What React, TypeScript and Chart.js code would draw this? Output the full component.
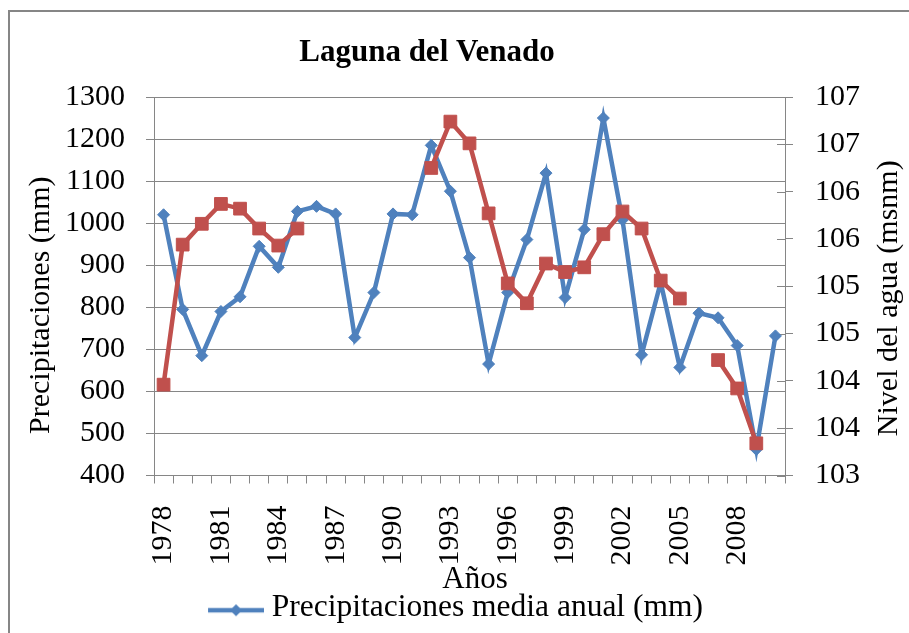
import React, { useEffect, useRef } from "react";
import { Chart, registerables } from "chart.js";

Chart.register(...registerables);

const chartTitle = "Laguna del Venado";
const leftAxisTitle = "Precipitaciones (mm)";
const rightAxisTitle = "Nivel del agua (msnm)";
const xAxisTitle = "Años";
const precipLabel = "Precipitaciones media anual (mm)";
const levelLabel = "Nivel del agua (msnm)";

const years = [
  "1978", "1979", "1980", "1981", "1982", "1983", "1984", "1985", "1986", "1987", "1988",
  "1989", "1990", "1991", "1992", "1993", "1994", "1995", "1996", "1997", "1998", "1999",
  "2000", "2001", "2002", "2003", "2004", "2005", "2006", "2007", "2008", "2009", "2010",
];

const shownYears = ["1978", "1981", "1984", "1987", "1990", "1993", "1996", "1999", "2002", "2005", "2008"];

const precipitation = [
  1020, 795, 685, 790, 825, 945, 895, 1028, 1040, 1022, 728,
  835, 1022, 1020, 1185, 1076, 918, 665, 835, 961, 1119, 823,
  985, 1250, 1008, 687, 859, 657, 786, 775, 709, 462, 732,
];

const waterLevel = [
  103.96, 105.44, 105.66, 105.87, 105.82, 105.61, 105.43, 105.61, null, null, null,
  null, null, null, 106.25, 106.74, 106.51, 105.77, 105.03, 104.82, 105.24, 105.15,
  105.2, 105.55, 105.79, 105.61, 105.06, 104.87, null, 104.22, 103.92, 103.34, null,
];

const FONT = "'Liberation Serif', 'Times New Roman', serif";
const BLUE = "#4F81BD";
const RED = "#C0504D";
const GRID = "#868686";

export default function App() {
  const ref = useRef<HTMLCanvasElement>(null);

  useEffect(() => {
    const canvas = ref.current;
    if (!canvas) return;

    const legendIcon = document.createElement("canvas");
    legendIcon.width = 66;
    legendIcon.height = 20;
    const lc = legendIcon.getContext("2d")!;
    lc.strokeStyle = BLUE;
    lc.lineWidth = 4.5;
    lc.beginPath();
    lc.moveTo(10, 13);
    lc.lineTo(66, 13);
    lc.stroke();
    lc.fillStyle = BLUE;
    lc.beginPath();
    lc.moveTo(32, 13);
    lc.lineTo(38, 7);
    lc.lineTo(44, 13);
    lc.lineTo(38, 19);
    lc.closePath();
    lc.fill();

    const deco = {
      id: "deco",
      beforeDraw(chart: any) {
        const { ctx, width, height } = chart;
        ctx.save();
        ctx.fillStyle = "#fff";
        ctx.fillRect(0, 0, width, height);
        ctx.restore();
      },
      beforeDatasetsDraw(chart: any) {
        const { ctx, chartArea } = chart;
        const s = chart.scales.y1;
        ctx.save();
        ctx.strokeStyle = GRID;
        ctx.lineWidth = 1;
        s.ticks.forEach((t: any) => {
          const py = Math.round(s.getPixelForValue(t.value)) + 0.5;
          ctx.beginPath();
          ctx.moveTo(chartArea.right - 8, py);
          ctx.lineTo(chartArea.right, py);
          ctx.stroke();
        });
        ctx.restore();
      },
      afterDraw(chart: any) {
        const { ctx, chartArea } = chart;
        ctx.save();
        ctx.strokeStyle = GRID;
        ctx.lineWidth = 2;
        ctx.strokeRect(9, 11, 2000, 2000);
        ctx.fillStyle = "#000";
        ctx.textAlign = "center";
        ctx.textBaseline = "middle";
        ctx.font = `bold 31px ${FONT}`;
        ctx.fillText(chartTitle, 427, 53);
        ctx.font = `30px ${FONT}`;
        const cy = (chartArea.top + chartArea.bottom) / 2;
        ctx.save();
        ctx.translate(41, cy + 19);
        ctx.rotate(-Math.PI / 2);
        ctx.fillText(leftAxisTitle, 0, 0);
        ctx.restore();
        ctx.save();
        ctx.translate(889, cy + 12);
        ctx.rotate(-Math.PI / 2);
        ctx.fillText(rightAxisTitle, 0, 0);
        ctx.restore();
        ctx.font = `31px ${FONT}`;
        ctx.fillText(xAxisTitle, 475, 580);
        ctx.restore();
      },
    };

    const tickFont = { size: 30, family: FONT };

    const chart = new Chart(canvas, {
      type: "line",
      data: {
        labels: years,
        datasets: [
          {
            label: levelLabel,
            data: waterLevel,
            yAxisID: "y1",
            borderColor: RED,
            backgroundColor: RED,
            pointBackgroundColor: RED,
            pointBorderColor: RED,
            pointStyle: "rect",
            pointRadius: 9,
            pointBorderWidth: 1,
            borderWidth: 4.5,
            tension: 0,
            spanGaps: false,
            order: 0,
          },
          {
            label: precipLabel,
            data: precipitation,
            yAxisID: "y",
            borderColor: BLUE,
            backgroundColor: BLUE,
            pointBackgroundColor: BLUE,
            pointBorderColor: BLUE,
            pointStyle: "rectRot",
            pointRadius: 6,
            pointBorderWidth: 1,
            borderWidth: 4.5,
            tension: 0,
            order: 1,
          },
        ],
      },
      options: {
        responsive: false,
        animation: false,
        events: [],
        layout: { padding: { top: 97, left: 0, right: 0, bottom: 0 } },
        plugins: {
          title: { display: false },
          tooltip: { enabled: false },
          legend: {
            position: "bottom",
            labels: {
              filter: (item: any) => item.text === precipLabel,
              usePointStyle: true,
              pointStyle: legendIcon as any,
              pointStyleWidth: 50,
              font: { size: 31.5, family: FONT },
              color: "#000",
              padding: 10,
            },
          },
        },
        scales: {
          x: {
            type: "category",
            offset: true,
            grid: { offset: true, drawOnChartArea: false, tickLength: 8, color: GRID },
            border: { color: GRID, width: 1 },
            ticks: {
              autoSkip: false,
              minRotation: 90,
              maxRotation: 90,
              padding: 22,
              font: tickFont,
              color: "#000",
              callback: (_v: any, i: number) => (shownYears.includes(years[i]) ? years[i] : ""),
            },
            afterFit: (s: any) => {
              s.height = 106;
            },
          },
          y: {
            position: "left",
            min: 400,
            max: 1300,
            ticks: {
              stepSize: 100,
              autoSkip: false,
              padding: 21,
              font: tickFont,
              color: "#000",
              callback: (v: any) => String(Math.round(Number(v))),
            },
            grid: { color: GRID, tickLength: 8 },
            border: { color: GRID },
            afterFit: (s: any) => {
              s.width = 154;
            },
          },
          y1: {
            position: "right",
            min: 103,
            max: 107,
            ticks: {
              stepSize: 0.5,
              autoSkip: false,
              padding: 22,
              font: tickFont,
              color: "#000",
              callback: (v: any) => String(Math.round(Number(v))),
            },
            grid: { drawOnChartArea: false, tickLength: 8, color: GRID },
            border: { color: GRID },
            afterFit: (s: any) => {
              s.width = 124;
            },
          },
        },
      } as any,
      plugins: [deco],
    });

    return () => chart.destroy();
  }, []);

  return (
    <div style={{ position: "fixed", left: 0, top: 0, width: 909, height: 633, overflow: "hidden" }}>
      <canvas ref={ref} width={909} height={633} style={{ display: "block" }} />
    </div>
  );
}
